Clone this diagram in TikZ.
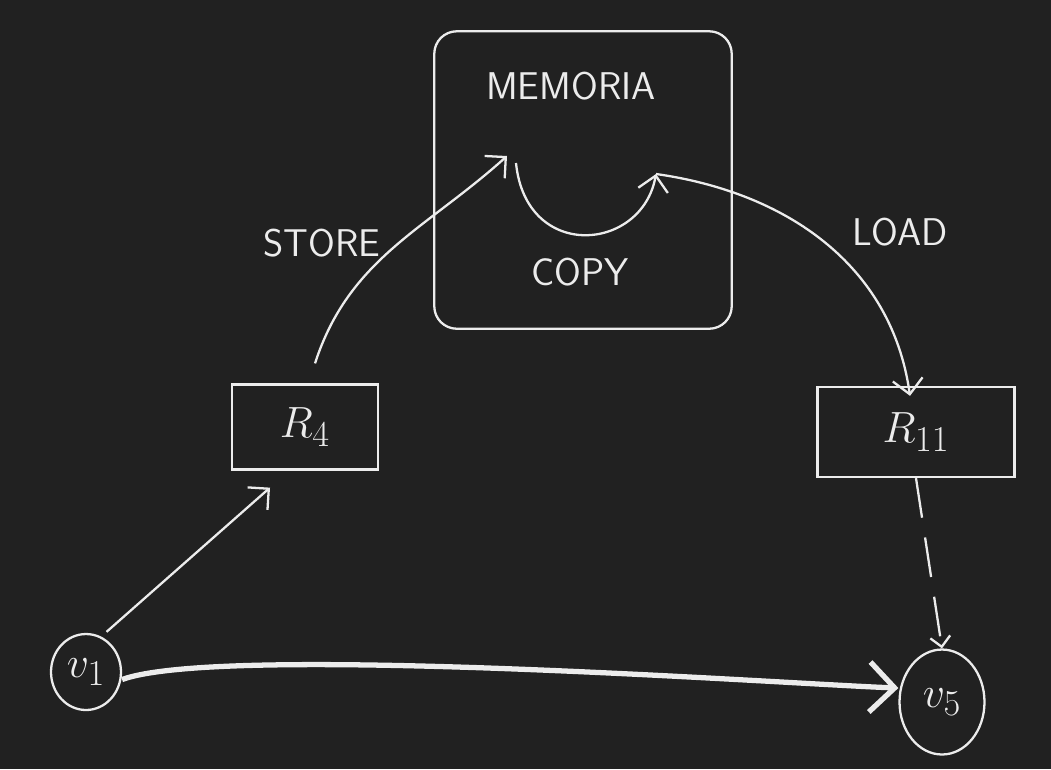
\documentclass[tikz,border=0pt]{standalone}
\usepackage{amsmath}
\usetikzlibrary{arrows.meta,shapes.geometric}
\definecolor{board}{RGB}{33,33,33}
\definecolor{chalk}{RGB}{236,236,236}

\begin{document}
\begin{tikzpicture}[x=0.02cm, y=-0.02cm,
block/.style = {draw=chalk, rectangle, line width=1.3pt, text=chalk, font=\fontsize{28}{32}\selectfont},
memory/.style = {draw=chalk, rectangle, rounded corners=0.45cm, line width=1.3pt, minimum width=5.95cm, minimum height=5.95cm},
vertex/.style = {draw=chalk, ellipse, line width=1.3pt, inner sep=0pt, text=chalk, font=\fontsize{30}{34}\selectfont},
tag/.style = {text=chalk, font=\sffamily\fontsize{22}{26}\selectfont},
link/.style = {draw=chalk, line width=1.3pt},
>={Straight Barb[length=3mm,width=6mm]}
]

    \fill [board] (0,0) rectangle (1051,769);

    \node [memory] (mem) at (583,180) {};
    \node [tag] (memname) at (571,86) {MEMORIA};
    \node [tag] (copyname) at (580,272) {COPY};

    \node [block, minimum width=2.92cm, minimum height=1.7cm] (r4) at (305,427) {$R_4$};
    \node [block, minimum width=3.94cm, minimum height=1.8cm] (r11) at (916,432) {$R_{11}$};

    \node [vertex, minimum width=1.4cm, minimum height=1.52cm] (v1) at (86,672) {$v_1$};
    \node [vertex, minimum width=1.7cm, minimum height=2.1cm] (v5) at (942,702) {$v_5$};

    \node [tag] (storename) at (322,243) {STORE};
    \node [tag] (loadname) at (900,232) {LOAD};

    \coordinate (storeend) at (507,156);
    \coordinate (copystart) at (516,163);
    \coordinate (copyend) at (656,174);


    \draw [link, ->] ([xshift=-0.1cm, yshift=0.25cm]v1.north east) -- ([xshift=-0.7cm, yshift=-0.34cm]r4.south);
    \draw [link, ->] ([xshift=0.2cm, yshift=0.4cm]r4.north) to [out=72, in=222] (storeend);

    \draw [link, ->] (copystart) .. controls (526,262) and (642,252) .. (copyend);
    \draw [link, ->] (copyend) to [out=-8, in=98] ([xshift=-0.12cm, yshift=-0.2cm]r11.north);

    \draw [link, >={Straight Barb[length=2mm,width=4mm]}, ->, dash pattern=on 0.8cm off 0.4cm] (r11.south) -- (v5.north);
    \draw [link, line width=3pt, >={Straight Barb[length=5mm,width=10mm]}, ->] ([yshift=-0.15cm]v1.east) to [out=20, in=178, looseness=0.35] ([yshift=0.28cm]v5.west);

\end{tikzpicture}
\end{document}
